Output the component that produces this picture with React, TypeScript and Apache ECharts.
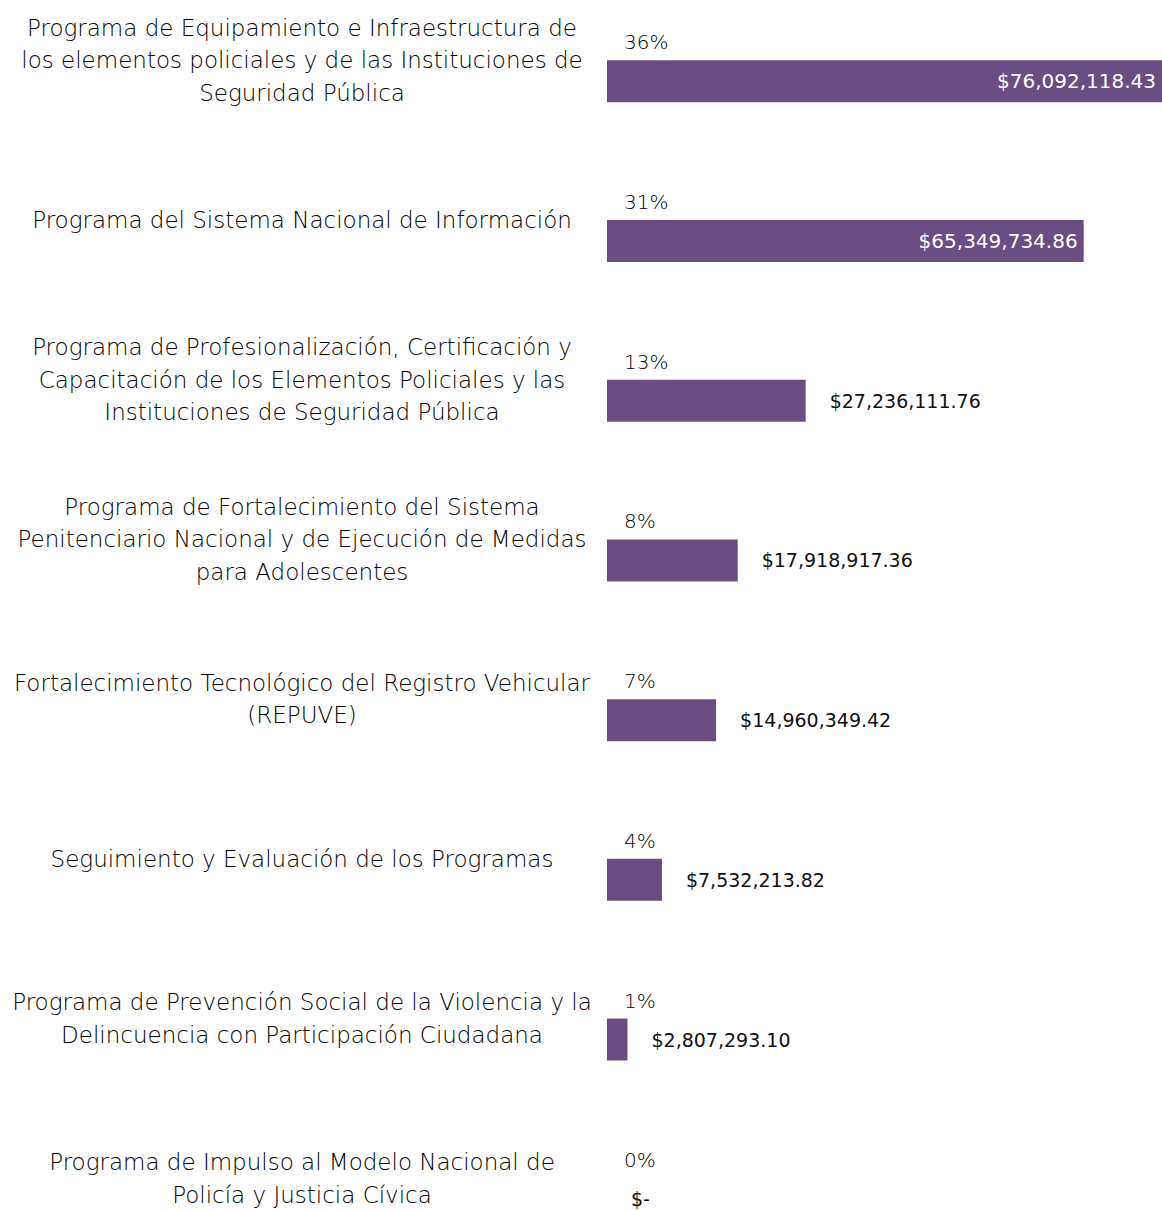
import React, { useEffect, useRef } from "react";
import * as echarts from "echarts";

const categories: string[] = [
  "Programa de Equipamiento e Infraestructura de\nlos elementos policiales y de las Instituciones de\nSeguridad Pública",
  "Programa del Sistema Nacional de Información",
  "Programa de Profesionalización, Certificación y\nCapacitación de los Elementos Policiales y las\nInstituciones de Seguridad Pública",
  "Programa de Fortalecimiento del Sistema\nPenitenciario Nacional y de Ejecución de Medidas\npara Adolescentes",
  "Fortalecimiento Tecnológico del Registro Vehicular\n(REPUVE)",
  "Seguimiento y Evaluación de los Programas",
  "Programa de Prevención Social de la Violencia y la\nDelincuencia con Participación Ciudadana",
  "Programa de Impulso al Modelo Nacional de\nPolicía y Justicia Cívica",
];

const amounts: number[] = [
  76092118.43, 65349734.86, 27236111.76, 17918917.36, 14960349.42, 7532213.82,
  2807293.1, 0,
];

const percentLabels: string[] = ["36%", "31%", "13%", "8%", "7%", "4%", "1%", "0%"];

const FONT = "DejaVu Sans";
const BAR_COLOR = "#6b4d83";
const TEXT_COLOR = "#000000";

function money(v: number): string {
  if (!v) return "$-";
  return (
    "$" +
    v.toLocaleString("en-US", { minimumFractionDigits: 2, maximumFractionDigits: 2 })
  );
}

export default function App() {
  const ref = useRef<HTMLDivElement>(null);
  useEffect(() => {
    if (!ref.current) return;
    const chart = echarts.init(ref.current, undefined, { renderer: "svg" });
    const maxVal = Math.max(...amounts);
    const mainData = amounts.map((v) => {
      const inside = v > maxVal * 0.6;
      return {
        value: v,
        label: inside
          ? {
              show: true,
              position: "insideRight",
              distance: 6,
              color: "#ffffff",
              fontSize: 20,
              fontWeight: 400,
            }
          : {
              show: true,
              position: "right",
              distance: 24,
              color: "#111111",
              fontSize: 19,
              fontWeight: 400,
            },
      };
    });
    chart.setOption({
      animation: false,
      grid: { left: 607, top: 1.5, width: 559, height: 1277.6, containLabel: false },
      xAxis: {
        type: "value",
        min: 0,
        max: maxVal,
        show: false,
        splitLine: { show: false },
      },
      yAxis: {
        type: "category",
        inverse: true,
        data: categories,
        axisLine: { show: false },
        axisTick: { show: false },
        axisLabel: {
          interval: 0,
          margin: 305,
          align: "center",
          verticalAlign: "middle",
          fontFamily: FONT,
          fontSize: 23,
          fontWeight: 200,
          lineHeight: 32.5,
          color: TEXT_COLOR,
          formatter: (v: string) => v + "\n{gap| }",
          rich: {
            gap: { fontSize: 2, lineHeight: 42, fontFamily: FONT },
          },
        },
      },
      series: [
        {
          type: "bar",
          data: mainData,
          barWidth: 42,
          itemStyle: { color: BAR_COLOR },
          label: {
            fontFamily: FONT,
            formatter: (p: any) => money(p.value),
          },
          silent: true,
        },
        {
          type: "bar",
          data: amounts,
          barWidth: 42,
          barGap: "-100%",
          itemStyle: { color: "rgba(0,0,0,0)" },
          silent: true,
          label: {
            show: true,
            position: [17, -18],
            align: "left",
            verticalAlign: "middle",
            fontFamily: FONT,
            fontSize: 20,
            fontWeight: 200,
            color: TEXT_COLOR,
            formatter: (p: any) => percentLabels[p.dataIndex],
          },
        },
      ],
    });
    return () => chart.dispose();
  }, []);
  return (
    <div
      ref={ref}
      style={{ position: "fixed", left: 0, top: 0, width: 1162, height: 1282, background: "#fff" }}
    />
  );
}
